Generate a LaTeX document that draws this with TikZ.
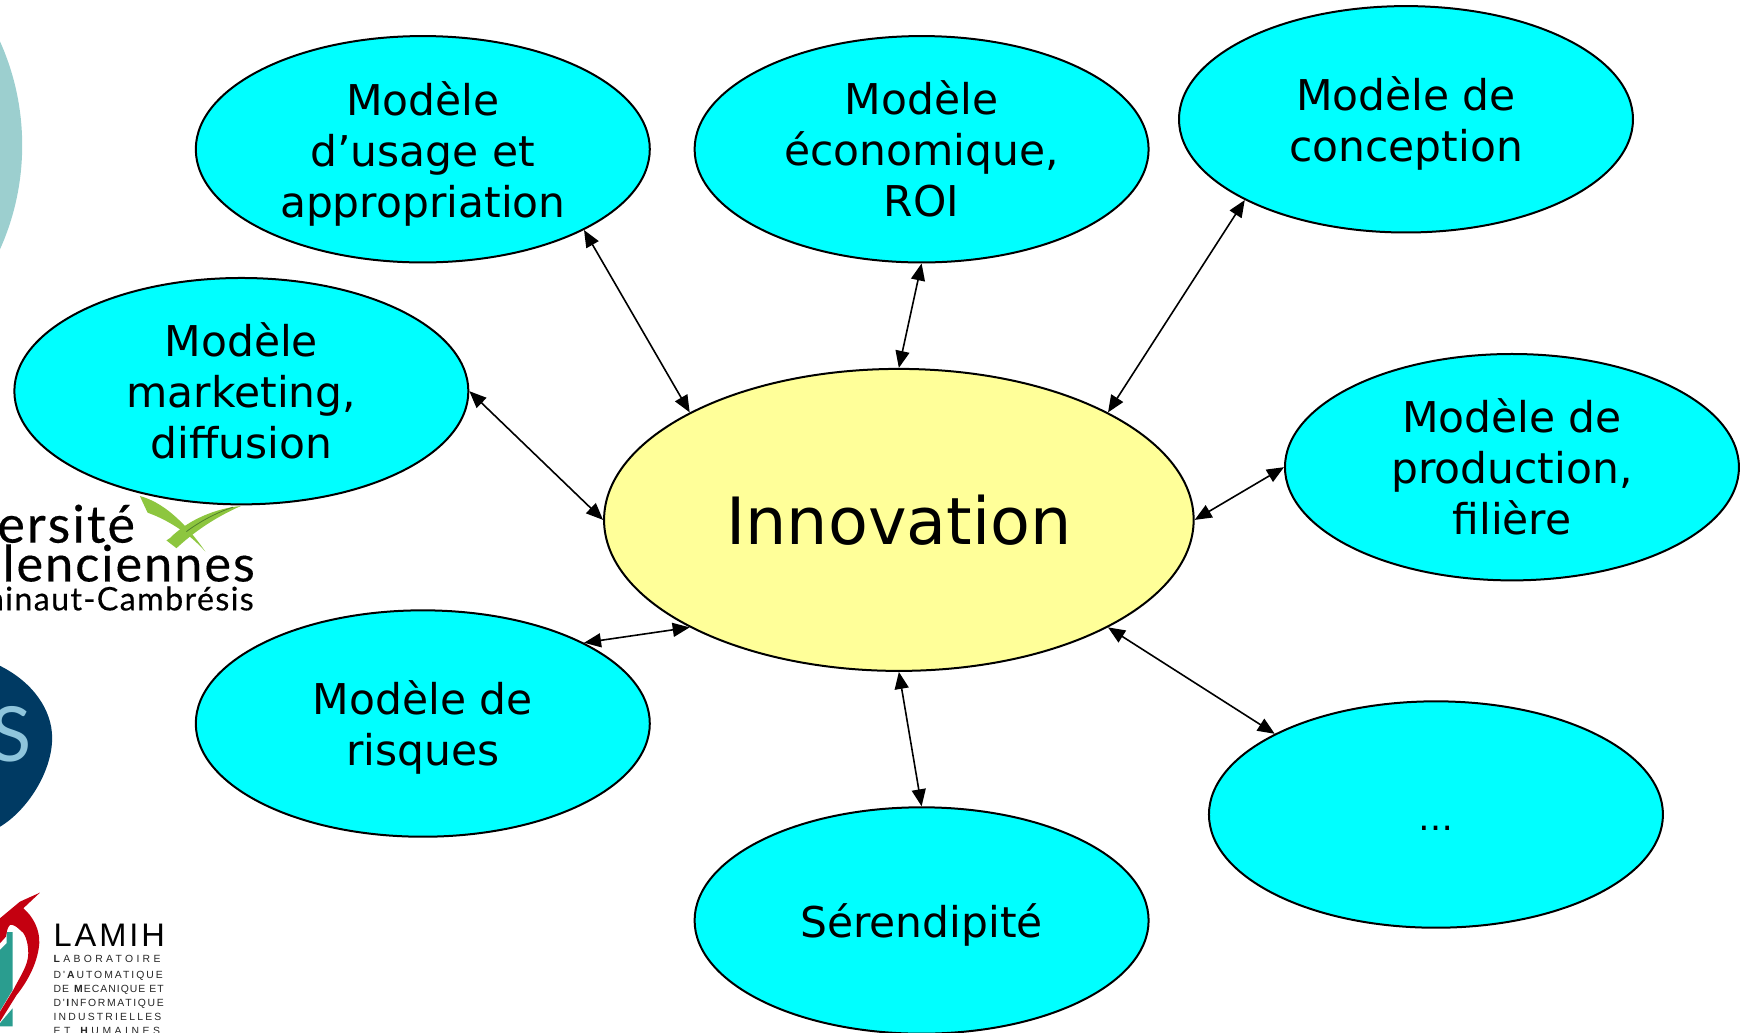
\documentclass[tikz,border=0pt]{standalone}
\usepackage{fontspec}
\setmainfont{DejaVu Sans}
\newfontfamily\logofont[LetterSpace=4,FakeBold=0.3]{Lato}
\newfontfamily\logoplain{Lato}
\newfontfamily\lamihfont[LetterSpace=9]{Liberation Sans}
\newfontfamily\lamihsmall{Liberation Sans}
\usetikzlibrary{shapes.geometric,arrows.meta}
\definecolor{bubble}{HTML}{00FFFF}
\definecolor{centreyellow}{HTML}{FFFF99}
\definecolor{paleteal}{HTML}{9CCFCF}
\definecolor{cnrsblue}{HTML}{003A63}
\definecolor{cnrspale}{HTML}{8FC5DC}
\definecolor{leafgreen}{HTML}{8DC63F}
\definecolor{leafdark}{HTML}{4F7F2A}
\definecolor{lamihred}{HTML}{C40010}
\definecolor{lamihteal}{HTML}{2A9D8F}
\newcommand{\nodepth}[1]{\raisebox{0pt}[\height][0pt]{#1}}
\begin{document}
\begin{tikzpicture}[x=0.55485pt, y=-0.55485pt,
  main/.style = {draw, ellipse, fill=bubble, inner sep=0pt, line width=1pt, minimum width=227pt, minimum height=113.2pt, align=center, font=\fontsize{21.2}{25.5}\selectfont},
  centre/.style = {main, fill=centreyellow, minimum width=294.8pt, minimum height=151pt, font=\fontsize{32.6}{38}\selectfont},
  link/.style = {{Triangle[length=8.5pt,width=7pt]}-{Triangle[length=8.5pt,width=7pt]}, line width=0.8pt},
  logotext/.style = {anchor=base east, inner sep=0pt},
  lamihline/.style = {anchor=base west, inner sep=0pt, text=black!85, font=\lamihsmall\fontsize{5.2}{6}\selectfont}]
\clip (0,0) rectangle (1568,930);

\fill[paleteal] (-208.6,131) circle (228.6);

\fill[leafgreen] (126,447) .. controls (145,452) and (165,468) .. (185,497) .. controls (170,480) and (150,468) .. (133,462) -- cycle;
\fill[leafgreen] (217,456) .. controls (195,458) and (170,468) .. (153,485) -- (150,487) -- (159,494) .. controls (172,482) and (190,468) .. cycle;
\draw[leafdark, line width=0.4pt] (210,457) .. controls (195,462) and (180,470) .. (168,479);
\node[logotext, font=\logofont\fontsize{26}{26}\selectfont] (l1) at (122,489) {ersité};
\node[logotext, font=\logofont\fontsize{25.2}{26}\selectfont] (l2) at (230,524) {alenciennes};
\node[logotext, font=\logofont\fontsize{16.2}{18}\selectfont] (l3) at (229,550) {ainaut-Cambrésis};

\fill[cnrsblue] (0,600) .. controls (30,615) and (47,640) .. (47,665) .. controls (47,695) and (25,730) .. (0,745) -- cycle;
\node[logotext, text=cnrspale, font=\logoplain\fontsize{38}{38}\selectfont] (l4) at (29,686) {S};

\fill[lamihteal] (0,856) -- (6,850) -- (6,840) -- (11.4,840) -- (11.4,892) -- (0,911) -- cycle;
\fill[lamihteal] (11.4,908.6) -- (11.4,925) -- (0,925) -- (0,922) -- cycle;
\fill[lamihred] (36,804.4) -- (21,818.5) .. controls (30,826) and (36,838) .. (35.4,850) .. controls (34,870) and (22,888) .. (15,896.6) -- (0,920.7) -- (0,911.7) -- (12,892) .. controls (18,880) and (25.5,870) .. (25.5,859) .. controls (25.5,848) and (22,840) .. (18,838) .. controls (14,834) and (11,833) .. (9,833.5) .. controls (6,836) and (6,842) .. (5.4,844) -- (0,850) -- (0,827.5) -- (18,812.5) -- cycle;
\node[anchor=base west, inner sep=0pt, font=\lamihfont\fontsize{16.3}{18}\selectfont, text=black] (l5) at (48,853) {LAMIH};
\node[lamihline] (l6) at (48,867.5) {\addfontfeature{LetterSpace=32}\textbf{L}ABORATOIRE};
\node[lamihline] (l7) at (48,882) {\addfontfeature{LetterSpace=19}D'\textbf{A}UTOMATIQUE};
\node[lamihline] (l8) at (48,894.6) {\addfontfeature{LetterSpace=10}DE \textbf{M}ECANIQUE ET};
\node[lamihline] (l9) at (48,907) {\addfontfeature{LetterSpace=16}D'\textbf{I}NFORMATIQUE};
\node[lamihline] (l10) at (48,920) {\addfontfeature{LetterSpace=21}INDUSTRIELLES};
\node[lamihline] (l11) at (48,932) {\addfontfeature{LetterSpace=34}ET \textbf{H}UMAINES};

\node[centre] (inno) at (810,468.5) {Innovation};
\node[main] (1) at (381,134.5) {Modèle\\d’usage et\\\nodepth{appropriation}};
\node[main] (2) at (830.5,134.5) {Modèle\\économique,\\ROI};
\node[main] (3) at (1267,107.5) {Modèle de\\\nodepth{conception}};
\node[main] (4) at (217.5,352.5) {Modèle\\marketing,\\diffusion};
\node[main] (5) at (1362.5,421) {Modèle de\\production,\\filière};
\node[main] (6) at (381,652) {Modèle de\\\nodepth{risques}};
\node[main] (7) at (830.5,829.5) {\nodepth{Sérendipité}};
\node[main] (8) at (1294,734) {\fontsize{17.5}{20}\selectfont\smash{\raisebox{-8.2pt}{…}}};

\draw[link] (1.south east)--(inno.north west);
\draw[link] (2.south)--(inno.north);
\draw[link] (3.south west)--(inno.north east);
\draw[link] (4.east)--(inno.west);
\draw[link] (5.west)--(inno.east);
\draw[link] (6.north east)--(inno.south west);
\draw[link] (7.north)--(inno.south);
\draw[link] (8.north west)--(inno.south east);

\end{tikzpicture}
\end{document}
